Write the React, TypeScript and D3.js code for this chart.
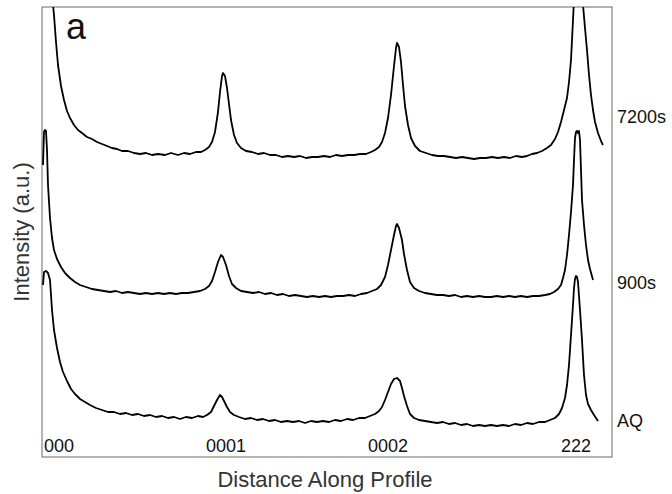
import React from "react";
import { scaleLinear, line } from "d3";

// distance along profile (a.u.), stacked intensity (a.u.)
const profile7200s: [number, number][] = [
  [2, 497], [4, 487], [8, 477], [10, 462], [12, 442], [14, 415], [16, 392], [19, 371],
  [22, 357], [25, 346], [28, 339], [32, 332], [36, 327], [40, 324], [45, 320], [50, 318],
  [55, 315], [60, 313], [65, 311], [70, 309], [75, 308], [80, 306], [86, 306], [92, 304],
  [98, 303], [104, 304], [110, 302], [116, 303], [123, 302], [129, 304], [136, 302], [142, 304],
  [148, 303], [154, 305], [159, 305], [163, 307], [167, 310], [170, 315], [173, 325], [176, 345],
  [178, 365], [180, 381], [181, 384], [183, 381], [185, 369], [187, 353], [189, 337], [192, 322],
  [195, 314], [199, 309], [204, 306], [210, 305], [216, 303], [222, 304], [228, 302], [234, 302],
  [240, 300], [246, 301], [252, 300], [258, 301], [264, 299], [270, 300], [276, 300], [282, 301],
  [288, 300], [294, 302], [300, 301], [306, 302], [312, 302], [318, 303], [324, 303], [329, 305],
  [333, 307], [337, 310], [340, 315], [343, 324], [346, 339], [349, 362], [352, 391], [354, 409],
  [355, 414], [357, 410], [359, 395], [361, 372], [363, 351], [366, 332], [369, 319], [373, 311],
  [378, 306], [384, 304], [390, 302], [396, 301], [402, 301], [408, 300], [414, 299], [420, 300],
  [426, 299], [432, 298], [438, 299], [444, 299], [450, 300], [456, 299], [462, 300], [468, 299],
  [474, 301], [480, 300], [485, 301], [490, 303], [495, 304], [500, 306], [505, 309], [509, 312],
  [513, 318], [516, 325], [519, 335], [522, 347], [525, 359], [527, 375], [529, 397], [530, 417],
  [531, 437], [532, 457], [534, 477], [536, 487], [539, 477], [541, 452], [543, 429], [545, 407],
  [547, 382], [549, 362], [551, 347], [553, 335], [556, 324], [559, 316], [561, 312]
];

const profile900s: [number, number][] = [
  [1, 292], [2, 325], [3, 327], [4, 326], [5, 307], [6, 272], [8, 239], [10, 219],
  [12, 207], [15, 198], [19, 190], [23, 184], [28, 179], [33, 175], [38, 172], [44, 170],
  [50, 168], [56, 167], [62, 166], [68, 165], [74, 166], [80, 164], [86, 165], [92, 164],
  [98, 163], [104, 164], [110, 163], [116, 164], [122, 163], [128, 164], [134, 163], [140, 164],
  [146, 164], [152, 165], [158, 166], [163, 168], [167, 171], [170, 176], [173, 185], [176, 195],
  [179, 202], [181, 200], [184, 192], [187, 181], [190, 173], [194, 169], [199, 166], [205, 165],
  [211, 164], [217, 165], [223, 163], [229, 164], [235, 162], [241, 163], [247, 161], [253, 162],
  [259, 161], [265, 160], [271, 161], [277, 160], [283, 161], [289, 160], [295, 161], [301, 161],
  [307, 162], [313, 161], [319, 163], [325, 164], [330, 166], [335, 168], [339, 172], [343, 180],
  [346, 192], [349, 207], [352, 222], [354, 231], [355, 233], [357, 229], [360, 217], [362, 203],
  [365, 187], [368, 175], [372, 169], [377, 166], [383, 164], [389, 163], [395, 162], [401, 162],
  [407, 161], [413, 162], [419, 160], [425, 161], [431, 160], [437, 161], [443, 160], [449, 160],
  [455, 161], [461, 160], [467, 161], [473, 160], [479, 161], [485, 160], [491, 161], [497, 161],
  [503, 162], [508, 163], [512, 165], [516, 168], [519, 172], [521, 179], [523, 187], [525, 202],
  [527, 222], [529, 245], [531, 272], [532, 297], [533, 319], [534, 325], [535, 326], [536, 324],
  [537, 326], [538, 317], [539, 287], [540, 257], [542, 232], [544, 212], [546, 197], [548, 188],
  [551, 177]
];

const profileAQ: [number, number][] = [
  [1, 172], [2, 185], [4, 186], [6, 184], [8, 177], [10, 147], [12, 127], [15, 109],
  [18, 95], [21, 85], [25, 76], [29, 68], [33, 63], [38, 58], [43, 55], [48, 52],
  [54, 49], [60, 47], [66, 45], [72, 45], [78, 43], [84, 44], [90, 42], [96, 43],
  [102, 41], [108, 42], [114, 40], [120, 41], [126, 39], [132, 40], [138, 38], [144, 40],
  [150, 39], [156, 41], [161, 40], [165, 42], [169, 45], [172, 51], [175, 57], [178, 62],
  [180, 60], [182, 56], [185, 50], [188, 45], [192, 42], [197, 40], [203, 38], [209, 39],
  [215, 37], [221, 38], [227, 36], [233, 37], [239, 35], [245, 36], [251, 35], [257, 36],
  [263, 34], [269, 36], [275, 35], [281, 36], [287, 35], [293, 37], [299, 36], [305, 38],
  [311, 37], [317, 39], [323, 39], [328, 41], [333, 43], [337, 46], [340, 50], [343, 57],
  [346, 65], [349, 73], [352, 78], [355, 79], [358, 76], [360, 69], [362, 61], [365, 51],
  [368, 43], [372, 39], [377, 37], [383, 36], [389, 35], [395, 34], [401, 35], [407, 33],
  [413, 34], [419, 32], [425, 33], [431, 31], [437, 32], [443, 31], [449, 32], [455, 31],
  [461, 32], [467, 31], [473, 33], [479, 32], [485, 34], [491, 33], [497, 35], [503, 35],
  [508, 37], [513, 39], [517, 43], [520, 49], [523, 59], [525, 72], [527, 92], [529, 122],
  [531, 152], [532, 169], [533, 178], [534, 181], [535, 180], [536, 175], [538, 147], [540, 117],
  [542, 82], [544, 62], [546, 53], [549, 47], [552, 42], [554, 39], [556, 36]
];

const sampleNames = ["7200s", "900s", "AQ"];
const peakNames = ["000", "0001", "0002", "222"];
const peakDistances = [0, 184, 346, 534];

const W = 672;
const H = 494;
const margin = { left: 42, top: 7, right: 60, bottom: 37 };

export default function App() {
  const x = scaleLinear().domain([0, 570]).range([margin.left, W - margin.right]);
  const y = scaleLinear().domain([0, 450]).range([H - margin.bottom, margin.top]);
  const path = line<[number, number]>()
    .x(d => x(d[0]))
    .y(d => y(d[1]));

  const profiles = [profile7200s, profile900s, profileAQ];
  // label heights (intensity units) for the sample names
  const labelLevels = [340, 174, 36];

  const fw = x(570) - x(0);
  const fh = y(0) - y(450);

  return (
    <svg
      width={W}
      height={H}
      style={{ position: "absolute", left: 0, top: 0, background: "#fff" }}
      fontFamily="'Liberation Sans', Arial, sans-serif"
    >
      <defs>
        <clipPath id="frame">
          <rect x={x(0)} y={y(450)} width={fw} height={fh} />
        </clipPath>
      </defs>
      <rect x={x(0)} y={y(450)} width={fw} height={fh} fill="none" stroke="#6b6b6b" strokeWidth={1} />
      <g clipPath="url(#frame)">
        {profiles.map((p, i) => (
          <path
            key={i}
            d={path(p) || ""}
            fill="none"
            stroke="#000"
            strokeWidth={1.8}
            strokeLinejoin="round"
          />
        ))}
      </g>
      {sampleNames.map((s, i) => (
        <text key={s} x={x(570) + 5} y={y(labelLevels[i])} dy="0.35em" fontSize={18} fill="#111">
          {s}
        </text>
      ))}
      {peakNames.map((s, i) => (
        <text
          key={s}
          x={x(peakDistances[i]) + (i === 0 ? 2 : 0)}
          y={y(0) - 5}
          textAnchor={i === 0 ? "start" : "middle"}
          fontSize={18}
          fill="#111"
        >
          {s}
        </text>
      ))}
      <text x={325} y={H - 7} textAnchor="middle" fontSize={22} fill="#333">
        Distance Along Profile
      </text>
      <text
        transform={`translate(29,${(y(0) + y(450)) / 2}) rotate(-90)`}
        textAnchor="middle"
        fontSize={22}
        fill="#333"
      >
        Intensity (a.u.)
      </text>
      <text x={66} y={39} fontSize={36} fill="#111">
        a
      </text>
    </svg>
  );
}
